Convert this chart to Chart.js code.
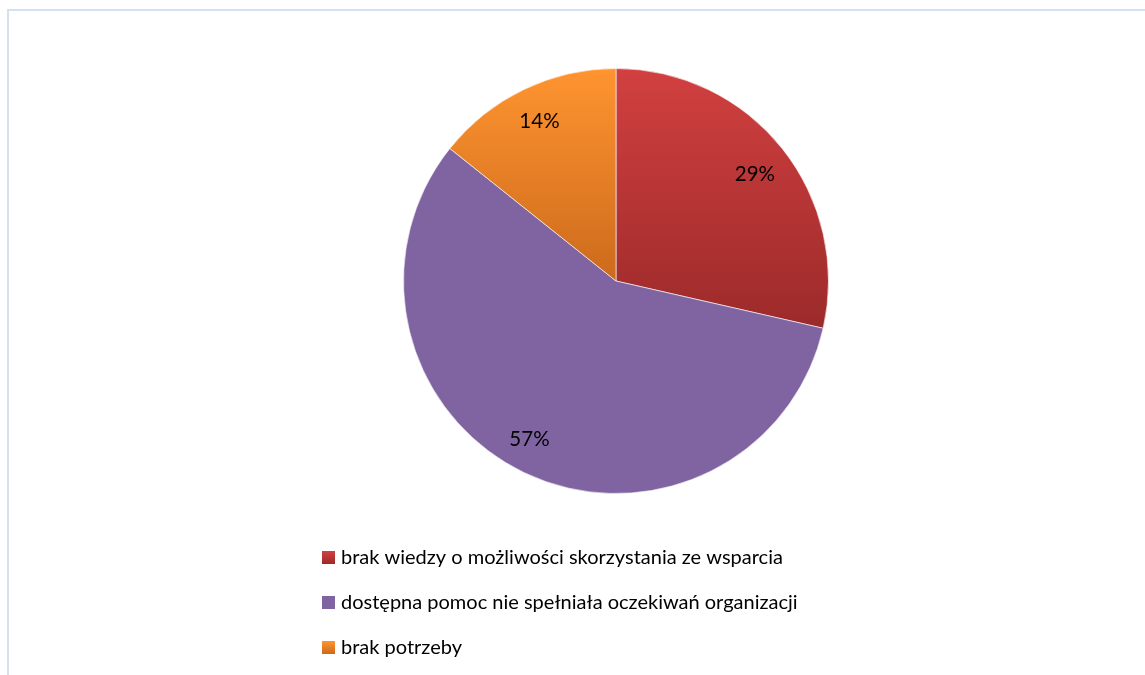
<!DOCTYPE html>
<html><head><meta charset="utf-8">
<script src="https://cdn.jsdelivr.net/npm/chart.js@4.4.0/dist/chart.umd.min.js"></script>
<style>
html,body{margin:0;padding:0;background:#fff;}
#wrap{position:absolute;left:0;top:0;width:1145px;height:675px;}
#frame{position:absolute;left:7px;top:9px;width:1160px;height:700px;border-left:2px solid #d6e1f0;border-top:2px solid #d6e1f0;}
</style></head>
<body>
<div id="wrap"><div id="frame"></div><canvas id="c" width="1145" height="675"></canvas></div>
<script>
const categories = ['brak wiedzy o możliwości skorzystania ze wsparcia','dostępna pomoc nie spełniała oczekiwań organizacji','brak potrzeby'];
const values = [2, 4, 1];
const percentLabels = ['29%','57%','14%'];
const colorTop = ['#d24040','#8064a2','#ff9430'];
const colorBottom = ['#9c2a2a','#8064a2','#cc6a1c'];
const FONT = 'Lato, "Open Sans", sans-serif';

function sliceGradient(ctx){
  const chart = ctx.chart, i = ctx.dataIndex;
  const ca = chart.chartArea;
  if(!ca) return colorTop[i];
  const cx=(ca.left+ca.right)/2, cy=(ca.top+ca.bottom)/2;
  const r=Math.min(ca.right-ca.left, ca.bottom-ca.top)/2;
  const total=values.reduce((a,b)=>a+b,0);
  let start=-Math.PI/2;
  for(let k=0;k<i;k++) start+=values[k]/total*2*Math.PI;
  const end=start+values[i]/total*2*Math.PI;
  const ys=[cy];
  for(let k=0;k<=60;k++){const a=start+(end-start)*k/60; ys.push(cy+Math.sin(a)*r);}
  const y0=Math.min(...ys), y1=Math.max(...ys);
  const g = chart.ctx.createLinearGradient(0,y0,0,y1);
  g.addColorStop(0,colorTop[i]); g.addColorStop(1,colorBottom[i]);
  return g;
}

const labelPlugin = {
  id:'pctLabels',
  afterDatasetsDraw(chart){
    const ctx=chart.ctx;
    const meta=chart.getDatasetMeta(0);
    ctx.save();
    ctx.font='20.5px '+FONT; ctx.fillStyle='#000'; ctx.textAlign='center'; ctx.textBaseline='middle';
    const nudge=[[1,3],[-10,-1],[0,-1]];
    meta.data.forEach((el,i)=>{
      const {x,y,startAngle,endAngle,outerRadius}=el.getProps(['x','y','startAngle','endAngle','outerRadius'],true);
      const a=(startAngle+endAngle)/2, r=outerRadius*0.83;
      ctx.fillText(percentLabels[i], x+Math.cos(a)*r+nudge[i][0], y+Math.sin(a)*r+nudge[i][1]);
    });
    ctx.restore();
  }
};

const legendPlugin = {
  id:'vertLegend',
  afterDraw(chart){
    const ctx=chart.ctx;
    ctx.save();
    chart.data.labels.forEach((lab,i)=>{
      const cy=557.5+i*45;
      const g=ctx.createLinearGradient(0,cy-6.5,0,cy+6.5);
      g.addColorStop(0,colorTop[i]); g.addColorStop(1,colorBottom[i]);
      ctx.fillStyle=g; ctx.fillRect(322,cy-6.5,13,13);
      ctx.fillStyle='#000'; ctx.font='20px '+FONT; ctx.textAlign='left'; ctx.textBaseline='middle';
      ctx.fillText(lab,341,cy);
    });
    ctx.restore();
  }
};

new Chart(document.getElementById('c'),{
  type:'pie',
  data:{labels:categories,datasets:[{data:values,backgroundColor:sliceGradient,borderColor:'rgba(255,255,255,0.6)',borderWidth:1}]},
  options:{
    responsive:false,animation:false,
    layout:{padding:{left:403,right:316,top:68,bottom:181}},
    plugins:{legend:{display:false},tooltip:{enabled:false}}
  },
  plugins:[labelPlugin,legendPlugin]
});
</script>
</body></html>
